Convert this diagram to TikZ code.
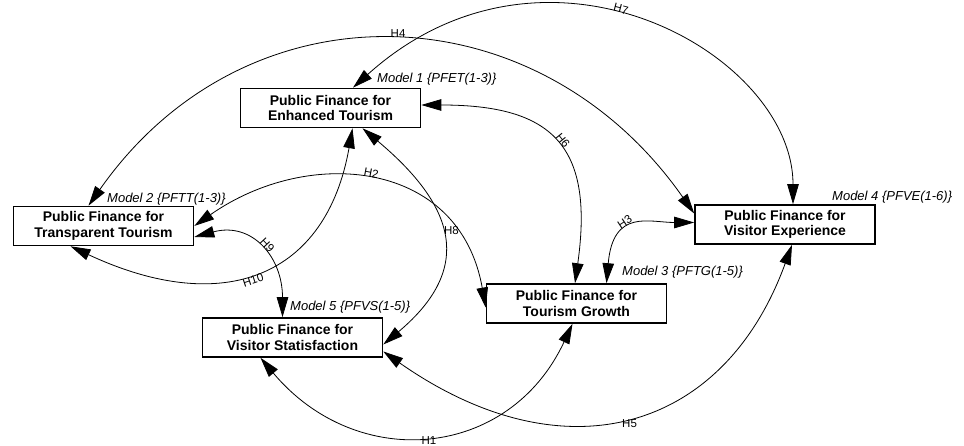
\documentclass[tikz,border=0pt]{standalone}
\usepackage{fontspec}
\setmainfont{Liberation Sans}
\usetikzlibrary{arrows.meta}

\begin{document}
\begin{tikzpicture}[x=1pt, y=1pt,
    construct/.style={draw, fill=white, line width=1.6pt, minimum width=180pt,
      minimum height=39pt, inner sep=0pt, align=center,
      font=\bfseries\fontsize{14}{15.5}\selectfont},
    modellab/.style={anchor=west, inner sep=0pt, font=\itshape\fontsize{13}{15}\selectfont},
    hyp/.style={line width=0.8pt,
      {Triangle[length=20pt,width=11.5pt]}-{Triangle[length=20pt,width=11.5pt]}},
    hlab/.style={font=\fontsize{11.5}{13}\selectfont, inner sep=3pt}]
    \useasboundingbox (0,0) rectangle (964,446);
    % constructs
    \node[construct] (pfet) at (330.5,338) {Public Finance for\\Enhanced Tourism};
    \node[construct] (pftt) at (103.5,220) {Public Finance for\\Transparent Tourism};
    \node[construct] (pfvs) at (292.5,108.5) {Public Finance for\\Visitor Statisfaction};
    \node[construct] (pftg) at (576.5,142.5) {Public Finance for\\Tourism Growth};
    \node[construct] (pfve) at (785,221.5) {Public Finance for\\Visitor Experience};
    % model tags
    \node[modellab] (m1) at (377,367) {Model 1 \{PFET(1-3)\}};
    \node[modellab] (m2) at (107,247) {Model 2 \{PFTT(1-3)\}};
    \node[modellab] (m3) at (622,174) {Model 3 \{PFTG(1-5)\}};
    \node[modellab] (m4) at (832,249) {Model 4 \{PFVE(1-6)\}};
    \node[modellab] (m5) at (290,139) {Model 5 \{PFVS(1-5)\}};
    % hypotheses
    \draw[hyp] ([xshift=-15]pftt.north) .. controls +(55:275) and +(125:275) .. ([yshift=11]pfve.west)
      node[hlab, pos=0.51, above] {H4};
    \draw[hyp] ([xshift=22.5]pfet.north) .. controls +(42:260) and +(90:150) .. ([xshift=8]pfve.north)
      node[hlab, pos=0.45, sloped, above] {H7};
    \draw[hyp] ([yshift=3]pfet.east) .. controls +(0:130) and +(82:140) .. ([xshift=-1.5]pftg.north)
      node[hlab, pos=0.52, sloped, above] {H6};
    \draw[hyp] ([xshift=30]pftg.north) .. controls +(85:75) and +(180:45) .. ([yshift=2]pfve.west)
      node[hlab, pos=0.42, sloped, above] {H3};
    \draw[hyp] (pftt.east) .. controls +(35:140) and +(100:150) .. ([yshift=-4]pftg.west)
      node[hlab, pos=0.49, sloped, above] {H2};
    \draw[hyp] ([xshift=32]pfet.south) .. controls +(-40:120) and +(40:120) .. ([yshift=-7]pfvs.east)
      node[hlab, pos=0.47, right] {H8};
    \draw[hyp] ([xshift=-33]pftt.south) .. controls +(-25:170) and +(260:150) .. ([xshift=22]pfet.south)
      node[hlab, pos=0.47, sloped, below] {H10};
    \draw[hyp] ([yshift=-11]pftt.east) .. controls +(15:60) and +(90:60) .. ([xshift=-10]pfvs.north)
      node[hlab, pos=0.52, sloped, above] {H9};
    \draw[hyp] ([xshift=-32]pfvs.south) .. controls +(-50:150) and +(245:150) .. ([xshift=-4]pftg.south)
      node[hlab, pos=0.5, below, inner sep=1pt] {H1};
    \draw[hyp] ([yshift=-14]pfvs.east) .. controls +(-35:220) and +(250:200) .. ([xshift=7]pfve.south)
      node[hlab, pos=0.5, below] {H5};
\end{tikzpicture}
\end{document}
